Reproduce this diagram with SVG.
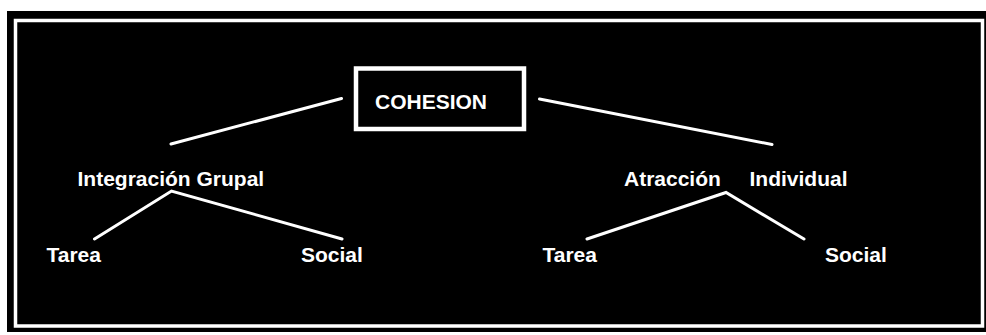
<svg xmlns="http://www.w3.org/2000/svg" width="986" height="335" viewBox="0 0 986 335">
<style>
.lbl{font-family:"Liberation Sans",Arial,sans-serif;font-weight:bold;font-size:21px;fill:#fff}
.ln{stroke:#fff;stroke-width:3;stroke-linecap:round;fill:none}
</style>
<rect x="0" y="0" width="986" height="335" fill="#fff"/>
<rect x="7" y="11" width="979" height="321" fill="#000"/>
<rect x="15.5" y="20.5" width="967" height="305.5" fill="none" stroke="#fff" stroke-width="3.5"/>
<g id="connectors">
<line class="ln" x1="341.5" y1="98.5" x2="171" y2="144"/>
<line class="ln" x1="539.5" y1="99" x2="772" y2="144.5"/>
<polyline class="ln" points="94.5,239 171.5,191 342,239"/>
<polyline class="ln" points="587,239 726,192.5 804,239"/>
</g>
<g id="cohesion">
<rect x="356" y="68.5" width="168" height="60.5" fill="none" stroke="#fff" stroke-width="4.5"/>
<text class="lbl" x="375" y="108.5">COHESION</text>
</g>
<g id="integracion">
<text class="lbl" x="77.5" y="186">Integración Grupal</text>
</g>
<g id="atraccion">
<text class="lbl" y="186"><tspan x="624">Atracción</tspan><tspan x="749.5">Individual</tspan></text>
</g>
<g id="tarea1"><text class="lbl" x="46.5" y="262">Tarea</text></g>
<g id="social1"><text class="lbl" x="301" y="262">Social</text></g>
<g id="tarea2"><text class="lbl" x="542.5" y="262">Tarea</text></g>
<g id="social2"><text class="lbl" x="825" y="262">Social</text></g>
</svg>
